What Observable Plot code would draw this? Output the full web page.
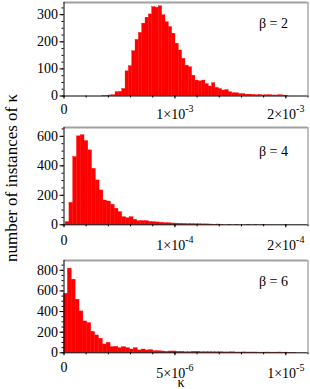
<!DOCTYPE html>
<html><head><meta charset="utf-8">
<script src="https://cdn.jsdelivr.net/npm/d3@7"></script>
<script src="https://cdn.jsdelivr.net/npm/@observablehq/plot@0.6"></script>
<style>
body{margin:0;background:#fff;}
#fig{position:relative;width:310px;height:389px;font-family:'Liberation Serif',serif;overflow:hidden;}
#fig > svg{position:absolute;left:0;}
#fig svg, #fig svg text{font-family:'Liberation Serif',serif !important;}
</style>
</head><body><div id="fig"></div>
<script>
// ---- data (bin start, bin width, counts per bin) ----
const beta2Start = 0.345e-3, beta2Width = 3e-5;
const beta2Counts = [1,1,2,3,14,15,26,91,110,165,207,233,267,289,301,328,326,331,298,272,254,230,193,168,137,112,106,75,57,54,57,44,35,47,30,26,20,22,14,10,10,7,7,5,5,4,3,4,2,3,3,2,2,3,2,1];
const beta4Start = 1.5e-6, beta4Width = 3.4e-6;
const beta4Counts = [18,149,460,600,607,568,505,380,301,233,165,158,136,109,86,52,45,52,34,25,25,25,20,18,16,14,11,11,9,8,7,6,5,5,4,4,3,3,2,1,2,1,0,1,0,1,0,0,1,0,1,0,1];
const beta6Start = 0, beta6Width = 1.75e-7;
const beta6Counts = [573,816,709,515,401,304,288,204,168,136,81,97,55,58,45,55,45,32,45,23,32,23,26,16,16,13,10,13,13,10,10,6,6,10,10,6,6,6,5,5,6,4,4,5,3,3,4,3,3,3,2,2,3,2,2,3,2,2,1,1];

const panelLabels = ["β = 2","β = 4","β = 6"];
const xMajor2 = [0,1e-3,2e-3], xMajorLabels2 = ["0","1×10^-3","2×10^-3"];
const xMajor4 = [0,1e-4,2e-4], xMajorLabels4 = ["0","1×10^-4","2×10^-4"];
const xMajor6 = [0,5e-6,1e-5], xMajorLabels6 = ["0","5×10^-6","1×10^-5"];
const yMajor2 = [0,100,200,300], yMajor4 = [0,200,400,600], yMajor6 = [0,200,400,600,800];

const yTitle = "number of instances of κ";
const xTitle = "κ";

function bins(start, w, counts){
  return counts.map((c,i)=>({x1:start+i*w, x2:start+(i+1)*w, count:c}));
}

const fig = document.getElementById("fig");
const ns = "http://www.w3.org/2000/svg";
const FONT = "Liberation Serif, serif";

function panel(o){
  const plot = Plot.plot({
    width:310, height:o.height,
    marginLeft:63.5, marginRight:2.5, marginTop:o.mt, marginBottom:o.mb,
    style:{fontFamily:FONT, fontSize:"14px", background:"transparent", color:"#000", overflow:"visible"},
    x:{domain:[0,o.xmax]},
    y:{domain:[0,o.ymax]},
    marks:[
      Plot.rectY(o.data,{x1:"x1",x2:"x2",y:"count",fill:"#ff0000",stroke:"#ff0000",strokeWidth:0.35,inset:0}),
      Plot.ruleY([o.ymax],{stroke:"#a0a0a0",strokeWidth:2}),
      Plot.ruleX([o.xmax],{stroke:"#808080",strokeWidth:1}),
      Plot.axisY(o.yMinor,{tickSize:2,tickFormat:()=>"",label:null,stroke:"#000"}),
      Plot.axisY(o.yMajor,{tickSize:4,tickPadding:2,label:null,tickFormat:d=>String(d),stroke:"#000"}),
      Plot.axisX(o.xMinor,{tickSize:2,tickFormat:()=>"",label:null,stroke:"#000"}),
      Plot.axisX(o.xMajor,{tickSize:3,tickPadding:o.xPad,label:null,stroke:"#000",
        tickFormat:d=>o.xLabels[o.xMajor.indexOf(d)]}),
      Plot.ruleX([0],{stroke:"#000",strokeWidth:1}),
      Plot.ruleY([0],{stroke:"#000",strokeWidth:1}),
      Plot.text([o.label],{frameAnchor:"top-right",dx:-20,dy:o.labelDy,lineAnchor:"bottom",textAnchor:"end",fontSize:14})
    ]
  });
  plot.setAttribute("font-family",FONT);
  // superscript exponents in x tick labels
  plot.querySelectorAll("text").forEach(t=>{
    t.setAttribute("font-family",FONT);
    const s = t.textContent;
    if(!s.includes("^")) return;
    const [b,e] = s.split("^");
    t.textContent = "";
    const t1 = document.createElementNS(ns,"tspan");
    t1.textContent = b;
    const ts = document.createElementNS(ns,"tspan");
    ts.setAttribute("dy","-7");
    ts.setAttribute("font-size","10px");
    ts.textContent = e;
    t.appendChild(t1);
    t.appendChild(ts);
    t.setAttribute("transform",(t.getAttribute("transform")||"")+" translate(0,5.5)");
  });
  plot.style.top = o.top+"px";
  fig.appendChild(plot);
}

panel({top:0,height:118,mt:2,mb:22.5,xmax:2.2e-3,ymax:345,xPad:5,
  data:bins(beta2Start,beta2Width,beta2Counts),
  xMajor:xMajor2,xLabels:xMajorLabels2,xMinor:d3.range(0,2.2e-3+1e-9,2e-4),
  yMajor:yMajor2,yMinor:d3.range(0,345,25),label:panelLabels[0],labelDy:25});
panel({top:118,height:132,mt:9,mb:25.7,xmax:2.2e-4,ymax:660,xPad:7,
  data:bins(beta4Start,beta4Width,beta4Counts),
  xMajor:xMajor4,xLabels:xMajorLabels4,xMinor:d3.range(0,2.2e-4+1e-10,2e-5),
  yMajor:yMajor4,yMinor:d3.range(0,660,50),label:panelLabels[1],labelDy:28});
panel({top:250,height:139,mt:10,mb:36.7,xmax:1.1e-5,ymax:895,xPad:6.5,
  data:bins(beta6Start,beta6Width,beta6Counts),
  xMajor:xMajor6,xLabels:xMajorLabels6,xMinor:d3.range(0,1.1e-5+1e-12,1e-6),
  yMajor:yMajor6,yMinor:d3.range(0,895,50),label:panelLabels[2],labelDy:25});

// overlay titles
const ov = document.createElementNS(ns,"svg");
ov.setAttribute("width",310); ov.setAttribute("height",389);
ov.style.top="0px"; ov.style.pointerEvents="none";
ov.setAttribute("font-family",FONT);
const yt = document.createElementNS(ns,"text");
yt.setAttribute("transform","translate(16.5,178) rotate(-90)");
yt.setAttribute("text-anchor","middle");
yt.setAttribute("font-size","17px");
yt.setAttribute("font-family",FONT);
yt.textContent = yTitle;
ov.appendChild(yt);
const xt = document.createElementNS(ns,"text");
xt.setAttribute("x",181); xt.setAttribute("y",387);
xt.setAttribute("text-anchor","middle");
xt.setAttribute("font-size","14px");
xt.setAttribute("font-family",FONT);
xt.textContent = xTitle;
ov.appendChild(xt);
fig.appendChild(ov);
</script>
</body></html>
